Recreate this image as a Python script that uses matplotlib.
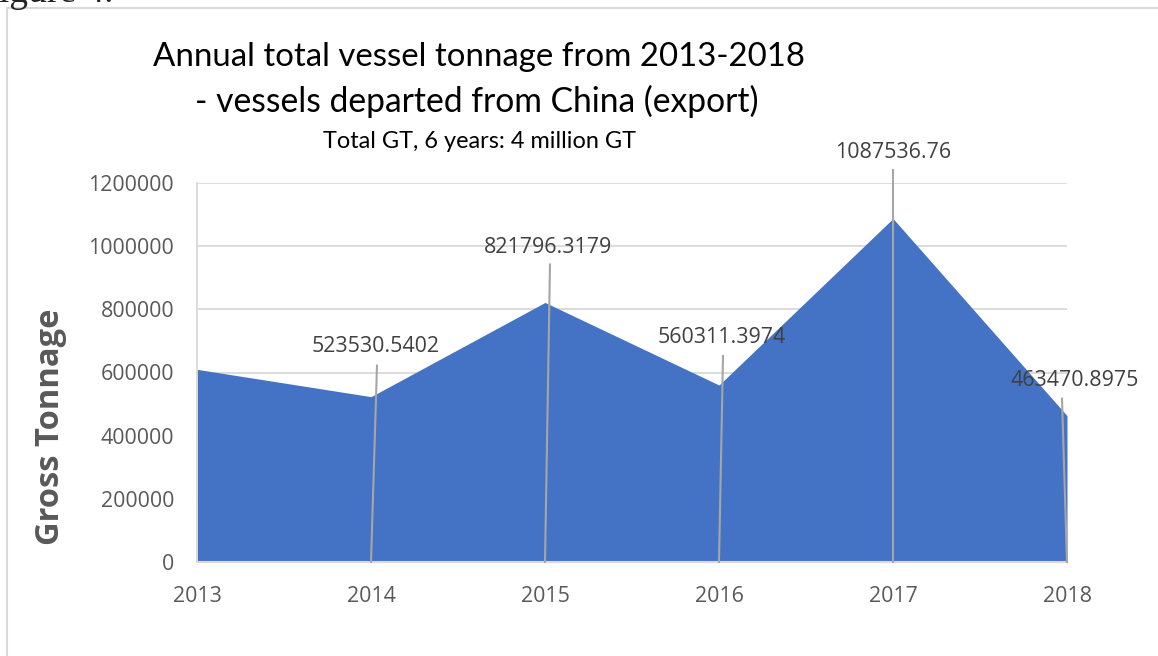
import matplotlib
matplotlib.use("Agg")
import matplotlib.pyplot as plt
from matplotlib.patches import Rectangle
from matplotlib.lines import Line2D

years = [2013, 2014, 2015, 2016, 2017, 2018]
tonnage = [610000, 523530.5402, 821796.3179, 560311.3974, 1087536.76, 463470.8975]
label_text = ["", "523530.5402", "821796.3179", "560311.3974", "1087536.76", "463470.8975"]
yticks = [0, 200000, 400000, 600000, 800000, 1000000, 1200000]

W, H = 1158, 656
fig = plt.figure(figsize=(W / 100, H / 100), dpi=100)

def fx(px):
    return px / W

def fy(py):
    return 1 - py / H

# chart border
fig.patches.append(Rectangle((fx(7), fy(662)), fx(1170) - fx(7), fy(8) - fy(662),
                             transform=fig.transFigure, fill=False,
                             edgecolor="#d9d9d9", linewidth=1.5))
# partially visible caption above chart
fig.text(fx(-22), fy(2), "Figure 4.", family="Liberation Serif", fontsize=27,
         color="#222222", va="baseline", ha="left")

ax = fig.add_axes([fx(197), fy(562), fx(1067) - fx(197), fy(183) - fy(562)])
ax.fill_between(years, tonnage, 0, color="#4472c4", linewidth=0, zorder=2)
ax.set_xlim(2013, 2018)
ax.set_ylim(0, 1200000)
ax.set_yticks(yticks)
ax.set_yticklabels([str(v) for v in yticks])
ax.set_xticks(years)
ax.set_xticklabels([str(y) for y in years])
ax.grid(axis="y", color="#d9d9d9", linewidth=1.3, zorder=0)
ax.set_axisbelow(True)
for s in ["top", "right"]:
    ax.spines[s].set_visible(False)
ax.spines["left"].set_color("#d9d9d9")
ax.spines["left"].set_linewidth(1.3)
ax.spines["bottom"].set_color("#d9d9d9")
ax.spines["bottom"].set_linewidth(1.5)
ax.spines["bottom"].set_zorder(3)
ax.tick_params(axis="both", length=0, labelsize=15.4, labelcolor="#595959")
ax.tick_params(axis="y", pad=16.5)
ax.tick_params(axis="x", pad=17)
for t in ax.get_xticklabels() + ax.get_yticklabels():
    t.set_family("Open Sans")

fig.text(fx(51), fy(427), "Gross Tonnage", family="Open Sans", fontweight="bold",
         fontsize=23.5, color="#595959", rotation=90, ha="center", va="center")

# data labels and leader lines, offsets in pixels relative to each point
label_off = [None, (5, 50), (3, 55), (3, 48), (0, 66), (8, 35)]
lead_off = [None, (6, 31), (5, 38), (4, 29), (0, 49), (-5, 17)]
for x, v, txt, lo, ld in zip(years, tonnage, label_text, label_off, lead_off):
    if not txt:
        continue
    ax.annotate(txt, xy=(x, v), xytext=lo, textcoords="offset pixels",
                ha="center", va="center", fontsize=15.4, color="#404040",
                family="Open Sans", zorder=5, annotation_clip=False)
    px, py = ax.transData.transform((x, v))
    bx, by = ax.transData.transform((x, 0))
    inv = fig.transFigure.inverted()
    top = inv.transform((px + ld[0], py + ld[1]))
    bot = inv.transform((bx, by))
    fig.lines.append(Line2D([top[0], bot[0]], [top[1], bot[1]],
                            transform=fig.transFigure, color="#a6a6a6",
                            linewidth=1.5, zorder=4))

fig.text(fx(479), fy(57), "Annual total vessel tonnage from 2013-2018",
         family="Lato", fontsize=23.8, color="#000000", ha="center", va="center")
fig.text(fx(477), fy(101), "- vessels departed from China (export)",
         family="Lato", fontsize=24.2, color="#000000", ha="center", va="center")
fig.text(fx(480), fy(141), "Total GT, 6 years: 4 million GT",
         family="Lato", fontsize=16.9, color="#000000", ha="center", va="center")

fig.savefig("out.png", dpi=100, facecolor="white")
